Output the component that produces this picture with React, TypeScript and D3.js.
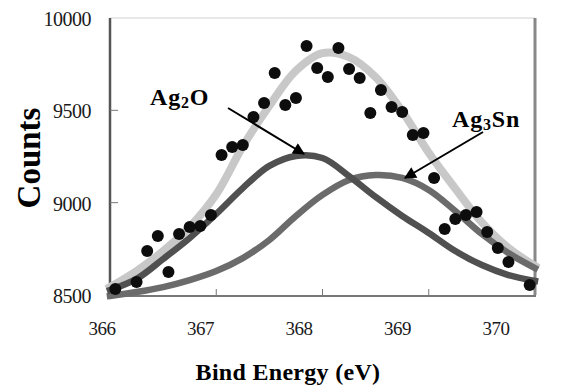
import React, { useEffect, useRef } from "react";
import * as d3 from "d3";

// binding energy (eV) of the measured points
const pointEnergy = [
  366.05, 366.25, 366.35, 366.45, 366.55, 366.65, 366.75, 366.85, 366.95, 367.05,
  367.15, 367.25, 367.35, 367.45, 367.55, 367.65, 367.75, 367.85, 367.95, 368.05,
  368.15, 368.25, 368.35, 368.45, 368.55, 368.65, 368.75, 368.85, 368.95, 369.05,
  369.15, 369.25, 369.35, 369.45, 369.55, 369.65, 369.75, 369.95,
];
// counts of the measured points
const pointCounts = [
  8532, 8570, 8738, 8819, 8625, 8830, 8868, 8874, 8933, 9258,
  9301, 9312, 9464, 9540, 9702, 9529, 9567, 9848, 9729, 9680,
  9837, 9724, 9675, 9486, 9610, 9518, 9491, 9366, 9377, 9134,
  8857, 8912, 8933, 8949, 8841, 8755, 8679, 8554,
];

// fitted curves
const fitEnergy = [
  366, 366.25, 366.5, 366.75, 367, 367.25, 367.5, 367.75, 368, 368.25,
  368.5, 368.75, 369, 369.25, 369.5, 369.75, 370,
];
const totalFit = [
  8543, 8630, 8738, 8868, 9045, 9305, 9525, 9715, 9810, 9788,
  9680, 9495, 9270, 9076, 8893, 8755, 8657,
];
const ag2oFit = [
  8527, 8587, 8695, 8809, 8939, 9079, 9199, 9253, 9242, 9144,
  9031, 8928, 8836, 8738, 8662, 8608, 8576,
];
const ag3snFit = [
  8495, 8516, 8543, 8581, 8630, 8700, 8798, 8928, 9042, 9123,
  9150, 9134, 9069, 8955, 8830, 8727, 8646,
];

const xTicks = [366, 367, 368, 369, 370];
const yTicks = [8500, 9000, 9500, 10000];

const W = 562;
const H = 387;
const serif = "'Liberation Serif', 'Times New Roman', serif";

export default function App() {
  const ref = useRef<SVGSVGElement>(null);

  useEffect(() => {
    const svg = d3.select(ref.current);
    svg.selectAll("*").remove();

    const x = d3.scaleLinear().domain([366, 370]).range([110, 535]);
    const y = d3.scaleLinear().domain([8500, 10000]).range([295, 18]);
    // the tick labels sit a little off the ticks in the original
    const xLabel = d3.scaleLinear().domain([366, 370]).range([102, 496]);

    svg.append("defs")
      .append("marker")
      .attr("id", "head")
      .attr("viewBox", "0 0 10 10")
      .attr("refX", 9)
      .attr("refY", 5)
      .attr("markerWidth", 14)
      .attr("markerHeight", 12)
      .attr("markerUnits", "userSpaceOnUse")
      .attr("orient", "auto")
      .append("path")
      .attr("d", "M0,0 L10,5 L0,10 Z")
      .attr("fill", "#000");

    // frame
    svg.append("line")
      .attr("x1", x(366)).attr("x2", x(370))
      .attr("y1", y(10000)).attr("y2", y(10000))
      .attr("stroke", "#d0d0d0").attr("stroke-width", 1);
    svg.append("line")
      .attr("x1", x(370)).attr("x2", x(370))
      .attr("y1", y(10000)).attr("y2", y(8500))
      .attr("stroke", "#888").attr("stroke-width", 3);
    svg.append("line")
      .attr("x1", x(366)).attr("x2", x(370) + 1)
      .attr("y1", y(8500) + 1).attr("y2", y(8500) + 1)
      .attr("stroke", "#777").attr("stroke-width", 2);
    svg.append("line")
      .attr("x1", x(366)).attr("x2", x(366))
      .attr("y1", y(10000)).attr("y2", y(8500) + 2)
      .attr("stroke", "#555").attr("stroke-width", 2.5);

    // ticks
    svg.append("g")
      .selectAll("line")
      .data(yTicks.slice(1, -1))
      .join("line")
      .attr("x1", x(366)).attr("x2", x(366) + 8)
      .attr("y1", (d) => y(d)).attr("y2", (d) => y(d))
      .attr("stroke", "#777");
    svg.append("g")
      .selectAll("line")
      .data(xTicks.slice(1, -1))
      .join("line")
      .attr("x1", (d) => x(d)).attr("x2", (d) => x(d))
      .attr("y1", y(8500)).attr("y2", y(8500) - 6)
      .attr("stroke", "#777");

    // tick labels
    svg.append("g")
      .attr("font-family", serif)
      .attr("font-size", 20)
      .attr("text-anchor", "end")
      .attr("letter-spacing", -0.5)
      .selectAll("text")
      .data(yTicks)
      .join("text")
      .attr("x", 91)
      .attr("y", (d) => y(d) + 8)
      .attr("fill", "#1a1a1a")
      .text((d) => d);
    svg.append("g")
      .attr("font-family", serif)
      .attr("font-size", 19)
      .attr("text-anchor", "middle")
      .attr("letter-spacing", -0.5)
      .selectAll("text")
      .data(xTicks)
      .join("text")
      .attr("x", (d) => xLabel(d))
      .attr("y", 335)
      .attr("fill", "#1a1a1a")
      .text((d) => d);

    // axis titles
    svg.append("text")
      .attr("transform", "translate(40,158) rotate(-90)")
      .attr("text-anchor", "middle")
      .attr("font-family", serif)
      .attr("font-weight", "bold")
      .attr("font-size", 33)
      .text("Counts");
    svg.append("text")
      .attr("x", 288)
      .attr("y", 380)
      .attr("text-anchor", "middle")
      .attr("font-family", serif)
      .attr("font-weight", "bold")
      .attr("font-size", 24)
      .attr("letter-spacing", 0.3)
      .text("Bind Energy (eV)");

    // fitted curves
    const line = d3
      .line<number>()
      .x((_, i) => x(fitEnergy[i]))
      .y((d) => y(d))
      .curve(d3.curveCatmullRom.alpha(0.5));

    const curves = [
      { values: totalFit, color: "#c8c8c8", width: 8 },
      { values: ag3snFit, color: "#6b6b6b", width: 6.5 },
      { values: ag2oFit, color: "#505050", width: 6.5 },
    ];
    svg.append("g")
      .selectAll("path")
      .data(curves)
      .join("path")
      .attr("d", (d) => line(d.values))
      .attr("fill", "none")
      .attr("stroke", (d) => d.color)
      .attr("stroke-width", (d) => d.width)
      .attr("stroke-linecap", "square");

    // measured points
    svg.append("g")
      .selectAll("circle")
      .data(pointEnergy)
      .join("circle")
      .attr("cx", (d) => x(d))
      .attr("cy", (_, i) => y(pointCounts[i]))
      .attr("r", 6)
      .attr("fill", "#0d0d0d");

    // annotations
    const labels = [
      { name: "Ag", sub: "2", rest: "O", tx: 150, ty: 105, ax: [228, 108], bx: [304, 154] },
      { name: "Ag", sub: "3", rest: "Sn", tx: 452, ty: 127, ax: [483, 132], bx: [405, 178] },
    ];
    labels.forEach((l) => {
      const t = svg.append("text")
        .attr("x", l.tx)
        .attr("y", l.ty)
        .attr("font-family", serif)
        .attr("font-weight", "bold")
        .attr("font-size", 24)
        .attr("letter-spacing", 0.8);
      t.append("tspan").text(l.name);
      t.append("tspan").attr("font-size", 16).attr("dy", 3).text(l.sub);
      t.append("tspan").attr("dy", -3).text(l.rest);
      svg.append("line")
        .attr("x1", l.ax[0]).attr("y1", l.ax[1])
        .attr("x2", l.bx[0]).attr("y2", l.bx[1])
        .attr("stroke", "#000")
        .attr("stroke-width", 2)
        .attr("marker-end", "url(#head)");
    });
  }, []);

  return (
    <svg
      ref={ref}
      width={W}
      height={H}
      style={{ position: "absolute", left: 0, top: 0, background: "#fff" }}
    />
  );
}
